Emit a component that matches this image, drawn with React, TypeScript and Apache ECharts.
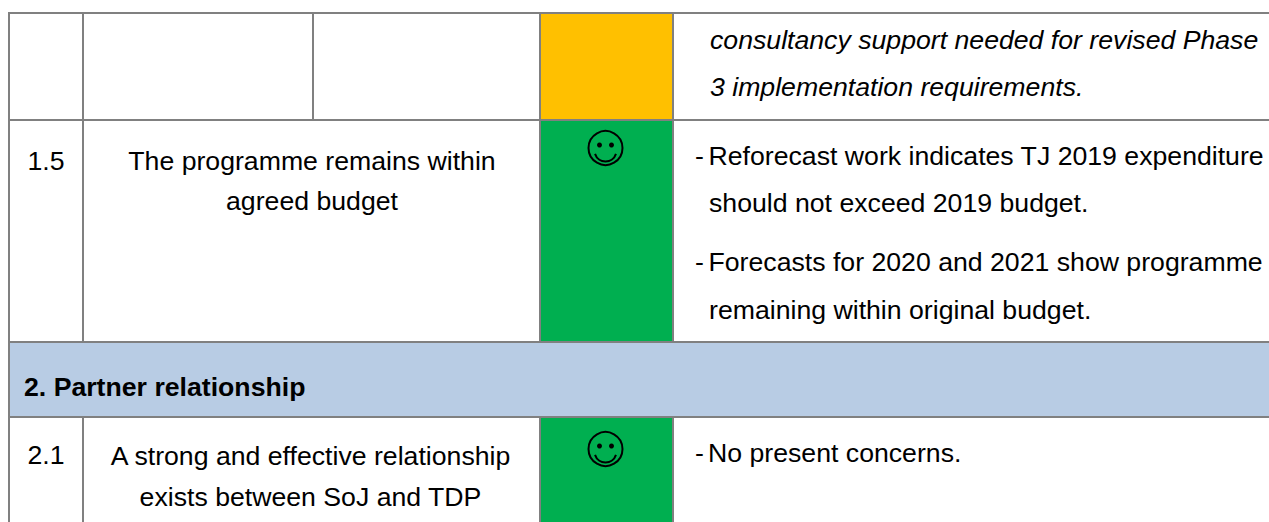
import React, { useEffect, useRef } from "react";
import * as echarts from "echarts";

const rowNumbers = ["1.5", "2.1"];
const rowCriteria = [
  ["The programme remains within", "agreed budget"],
  ["A strong and effective relationship", "exists between SoJ and TDP"],
];
const carryOverLines = ["consultancy support needed for revised Phase", "3 implementation requirements."];
const budgetNotes = [
  "Reforecast work indicates TJ 2019 expenditure",
  "should not exceed 2019 budget.",
  "Forecasts for 2020 and 2021 show programme",
  "remaining within original budget.",
];
const sectionTitle = "2. Partner relationship";
const relationshipNote = "No present concerns.";

const FONT = "'Liberation Sans', Arial, sans-serif";
const SIZE = 26.67;
const GRID = "#808080";
const AMBER = "#FFC000";
const GREEN = "#00AF50";
const BAND = "#B8CCE4";
const INK = "#000000";

const txt = (text: string, x: number, y: number, extra: any = {}) => ({
  type: "text",
  x,
  y,
  silent: true,
  style: {
    text,
    fill: INK,
    fontFamily: FONT,
    fontSize: SIZE,
    textAlign: extra.align || "left",
    textVerticalAlign: "middle",
    fontStyle: extra.italic ? "italic" : "normal",
    fontWeight: extra.bold ? "bold" : "normal",
  },
});
const rect = (x: number, y: number, width: number, height: number, fill: string) => ({
  type: "rect",
  silent: true,
  shape: { x, y, width, height },
  style: { fill },
});
const line = (x1: number, y1: number, x2: number, y2: number) => ({
  type: "line",
  silent: true,
  shape: { x1, y1, x2, y2 },
  style: { stroke: GRID, lineWidth: 2 },
});
const smiley = (cx: number, cy: number) => [
  { type: "circle", silent: true, shape: { cx, cy, r: 17 }, style: { fill: "transparent", stroke: INK, lineWidth: 2 } },
  { type: "circle", silent: true, shape: { cx: cx - 6, cy: cy - 3, r: 2.5 }, style: { fill: INK } },
  { type: "circle", silent: true, shape: { cx: cx + 6, cy: cy - 3, r: 2.5 }, style: { fill: INK } },
  {
    type: "arc",
    silent: true,
    shape: { cx, cy: cy + 2.5, r: 11, startAngle: Math.PI * 0.1, endAngle: Math.PI * 0.9, clockwise: true },
    style: { fill: "none", stroke: INK, lineWidth: 2 },
  },
];

export default function App() {
  const ref = useRef<HTMLDivElement>(null);
  useEffect(() => {
    const chart = echarts.init(ref.current!, undefined, { renderer: "svg" });
    const elements: any[] = [
      rect(540, 13, 133, 107, AMBER),
      rect(540, 120, 133, 222, GREEN),
      rect(9, 342, 1260, 75, BAND),
      rect(540, 417, 133, 105, GREEN),
      line(8, 13, 1269, 13),
      line(8, 120, 1269, 120),
      line(8, 342, 1269, 342),
      line(8, 417, 1269, 417),
      line(9, 13, 9, 522),
      line(83, 13, 83, 342),
      line(83, 417, 83, 522),
      line(313, 13, 313, 120),
      line(540, 13, 540, 342),
      line(540, 417, 540, 522),
      line(673, 13, 673, 342),
      line(673, 417, 673, 522),
      ...smiley(605.5, 148),
      ...smiley(605.5, 449),
      txt(rowNumbers[0], 46, 161, { align: "center" }),
      txt(rowCriteria[0][0], 312, 161, { align: "center" }),
      txt(rowCriteria[0][1], 312, 201, { align: "center" }),
      txt(carryOverLines[0], 710, 40, { italic: true }),
      txt(carryOverLines[1], 710, 87, { italic: true }),
      txt("-", 695, 156),
      txt(budgetNotes[0], 708.5, 156),
      txt(budgetNotes[1], 709, 203),
      txt("-", 695, 262),
      txt(budgetNotes[2], 708.5, 262),
      txt(budgetNotes[3], 709, 310),
      txt(sectionTitle, 24, 387, { bold: true }),
      txt(rowNumbers[1], 46, 455, { align: "center" }),
      txt(rowCriteria[1][0], 310.5, 456, { align: "center" }),
      txt(rowCriteria[1][1], 310.5, 497, { align: "center" }),
      txt("-", 695, 453),
      txt(relationshipNote, 708, 453),
    ];
    chart.setOption({ animation: false, backgroundColor: "#ffffff", graphic: { elements } });
    return () => chart.dispose();
  }, []);
  return <div ref={ref} style={{ position: "fixed", left: 0, top: 0, width: 1269, height: 522 }} />;
}
